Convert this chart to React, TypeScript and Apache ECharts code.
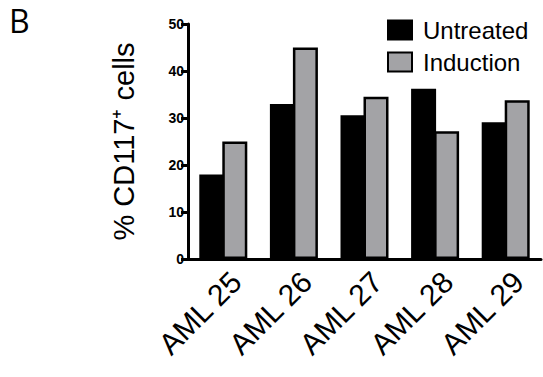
import React, { useEffect, useRef } from "react";
import * as echarts from "echarts";

const categories = ["AML 25", "AML 26", "AML 27", "AML 28", "AML 29"];
const untreated = [18, 33, 30.6, 36.2, 29.1];
const induction = [25, 45, 34.5, 27.2, 33.8];
const yTicks = { min: 0, max: 50, interval: 10 };

export default function App() {
  const ref = useRef<HTMLDivElement>(null);
  useEffect(() => {
    if (!ref.current) return;
    const chart = echarts.init(ref.current, null, { renderer: "svg" });
    const font = "Liberation Sans, Arial, sans-serif";
    chart.setOption({
      animation: false,
      backgroundColor: "#ffffff",
      title: {
        text: "B",
        left: 9,
        top: 3,
        padding: 0,
        textStyle: { fontSize: 32, lineHeight: 34, fontWeight: "normal", fontFamily: "Open Sans, sans-serif", color: "#000" },
      },
      legend: {
        orient: "vertical",
        left: 382,
        top: 13,
        itemWidth: 24,
        itemHeight: 19,
        itemGap: 8,
        icon: "rect",
        textStyle: { fontSize: 24, lineHeight: 21, fontFamily: font, color: "#000", padding: [0, 0, 0, 6] },
        data: ["Untreated", "Induction"],
      },
      grid: { left: 188, right: 2, top: 24, bottom: 118, containLabel: false },
      xAxis: {
        type: "category",
        data: categories,
        axisLine: { lineStyle: { color: "#000", width: 3 } },
        axisTick: { alignWithLabel: true, length: 6, lineStyle: { color: "#000", width: 3 } },
        axisLabel: {
          rotate: 45,
          fontSize: 30,
          fontFamily: font,
          color: "#000",
          margin: 5,
          verticalAlign: "top",
          padding: [3, 0, 0, 0],
        },
      },
      yAxis: {
        type: "value",
        min: yTicks.min,
        max: yTicks.max,
        interval: yTicks.interval,
        name: "% CD117\u207A cells",
        nameLocation: "middle",
        nameGap: 50,
        nameTextStyle: { fontSize: 29, fontFamily: font, color: "#000" },
        splitLine: { show: false },
        axisLine: { show: true, lineStyle: { color: "#000", width: 3 } },
        axisTick: { show: true, length: 7, lineStyle: { color: "#000", width: 3 } },
        axisLabel: { fontSize: 14, fontWeight: "bold", fontFamily: font, color: "#000", margin: 4 },
      },
      series: [
        {
          name: "Untreated",
          type: "bar",
          data: untreated,
          barWidth: 25,
          barGap: "-8%",
          itemStyle: { color: "#000", borderColor: "#000", borderWidth: 2.5 },
        },
        {
          name: "Induction",
          type: "bar",
          data: induction,
          barWidth: 25,
          itemStyle: { color: "#a3a3a6", borderColor: "#000", borderWidth: 2.5 },
        },
      ],
    });
    return () => chart.dispose();
  }, []);
  return (
    <div
      ref={ref}
      style={{ position: "fixed", left: 0, top: 0, width: 543, height: 377 }}
    />
  );
}
